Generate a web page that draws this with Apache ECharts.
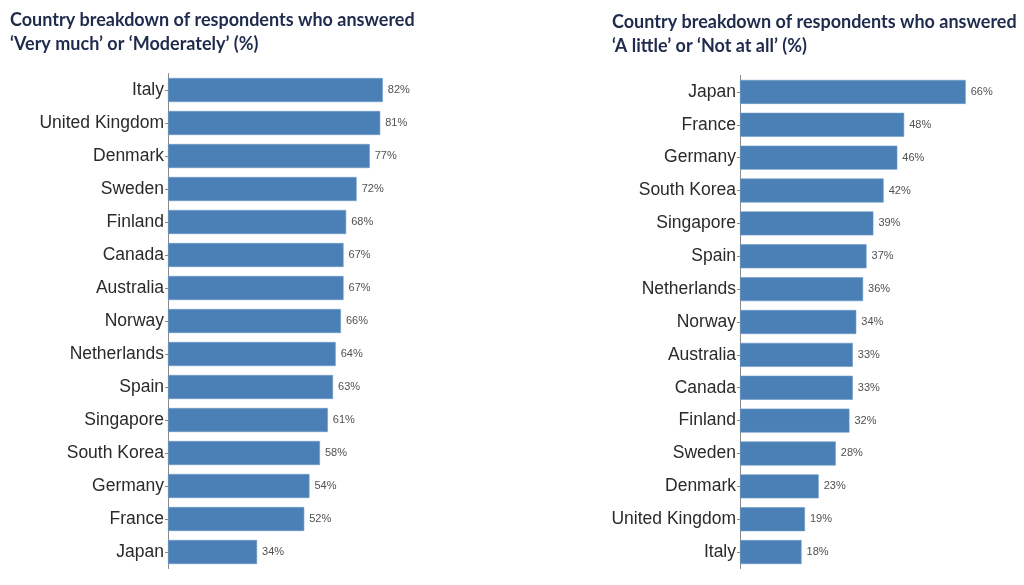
<!DOCTYPE html>
<html><head><meta charset="utf-8">
<script src="https://cdn.jsdelivr.net/npm/echarts@6/dist/echarts.min.js"></script>
<style>html,body{margin:0;padding:0;background:#fff}#c{width:1024px;height:585px}</style>
</head><body><div id="c"></div>
<script>
const leftTitle = "Country breakdown of respondents who answered\n‘Very much’ or ‘Moderately’ (%)";
const rightTitle = "Country breakdown of respondents who answered\n‘A little’ or ‘Not at all’ (%)";
const leftCategories = ["Italy","United Kingdom","Denmark","Sweden","Finland","Canada","Australia","Norway","Netherlands","Spain","Singapore","South Korea","Germany","France","Japan"];
const leftValues = [82,81,77,72,68,67,67,66,64,63,61,58,54,52,34];
const rightCategories = ["Japan","France","Germany","South Korea","Singapore","Spain","Netherlands","Norway","Australia","Canada","Finland","Sweden","Denmark","United Kingdom","Italy"];
const rightValues = [66,48,46,42,39,37,36,34,33,33,32,28,23,19,18];

const chart = echarts.init(document.getElementById('c'), null, {renderer:'canvas'});
const barColor = '#4a80b6';
const titleStyle = {fontFamily:'Lato', fontWeight:'bold', fontSize:18, color:'#1f2b4d', lineHeight:24};
function yAx(i, cats){
  return {type:'category', gridIndex:i, data:cats, inverse:true,
    axisLine:{lineStyle:{color:'#8a8a8a', width:1}},
    axisTick:{show:true, alignWithLabel:true, length:3, lineStyle:{color:'#8a8a8a'}},
    axisLabel:{fontFamily:'Liberation Sans', fontSize:17.5, color:'#2a2a2a', margin:4}};
}
function xAx(i, max){
  return {type:'value', gridIndex:i, min:0, max:max, show:false, splitLine:{show:false}};
}
function ser(i, vals){
  return {type:'bar', xAxisIndex:i, yAxisIndex:i, data:vals, barWidth:24,
    itemStyle:{color:barColor, borderColor:'#6f9bc8', borderWidth:0.6},
    label:{show:true, position:'right', distance:5, formatter:'{c}%', fontFamily:'Liberation Sans', fontSize:11, color:'#505050'},
    animation:false};
}
chart.setOption({
  animation:false,
  title:[
    {text:leftTitle, left:5, top:3, textStyle:titleStyle},
    {text:rightTitle, left:607, top:5, textStyle:titleStyle}
  ],
  grid:[
    {left:168, width:262, top:73.5, height:495},
    {left:740, width:273.6, top:75.5, height:493}
  ],
  xAxis:[xAx(0,100), xAx(1,80)],
  yAxis:[yAx(0,leftCategories), yAx(1,rightCategories)],
  series:[ser(0,leftValues), ser(1,rightValues)]
});
</script></body></html>
